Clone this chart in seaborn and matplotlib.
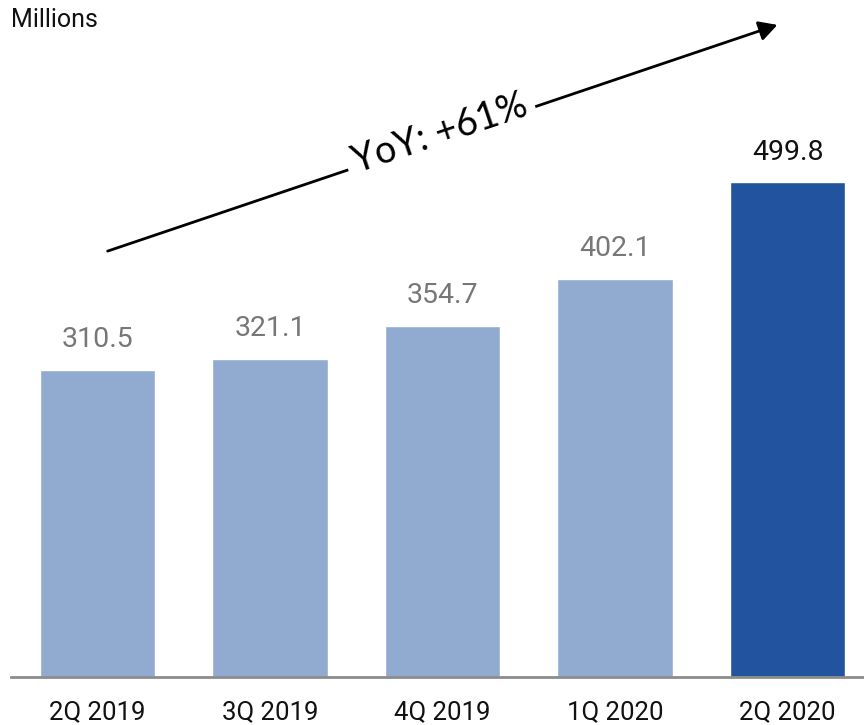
import matplotlib
matplotlib.use("Agg")
import matplotlib.pyplot as plt
import seaborn as sns
import pandas as pd

quarters = ["2Q 2019", "3Q 2019", "4Q 2019", "1Q 2020", "2Q 2020"]
values = [310.5, 321.1, 354.7, 402.1, 499.8]
value_labels = ["310.5", "321.1", "354.7", "402.1", "499.8"]
bar_colors = ["#91abd0", "#91abd0", "#91abd0", "#91abd0", "#21539f"]
label_colors = ["#777777", "#777777", "#777777", "#777777", "#111111"]
unit_label = "Millions"
growth_label = "YoY: +61%"

sns.set_theme(style="white")
plt.rcParams["font.family"] = ["Roboto", "DejaVu Sans"]

W, H = 864, 725
fig = plt.figure(figsize=(W / 100, H / 100), dpi=100)

# axes placed in pixel terms: baseline at y=677, bars spaced 172.5 px apart
ax_left, ax_right, ax_bottom = 11, 864, 677
ax = fig.add_axes([ax_left / W, (H - ax_bottom) / H, (ax_right - ax_left) / W, ax_bottom / H])

df = pd.DataFrame({"quarter": quarters, "value": values})
sns.barplot(data=df, x="quarter", y="value", hue="quarter", palette=bar_colors,
            width=0.667, legend=False, saturation=1, ax=ax)

spacing = 172.5
first_center = 97.5
ax.set_xlim(-(first_center - ax_left) / spacing, (ax_right - first_center) / spacing)
ax.set_ylim(0, ax_bottom / 0.99)

for s in ["top", "right", "left"]:
    ax.spines[s].set_visible(False)
ax.spines["bottom"].set_color("#8c8c8c")
ax.spines["bottom"].set_linewidth(2)

ax.set_yticks([])
ax.set_xlabel("")
ax.set_ylabel("")
ax.tick_params(axis="x", length=0, pad=17, labelsize=18.5, colors="#111111")

for i, (v, lab, c) in enumerate(zip(values, value_labels, label_colors)):
    ax.annotate(lab, (i, v), xytext=(0, 12), textcoords="offset points",
                ha="center", va="bottom", fontsize=20.5, color=c)

fig.text(11 / W, 1 - 20 / H, unit_label, ha="left", va="center",
         fontsize=18, color="#111111")

# growth arrow with label sitting on the line
x0, y0 = 105, 252
x1, y1 = 780, 24
fig.add_artist(matplotlib.patches.FancyArrowPatch(
    (x0 / W, 1 - y0 / H), (x1 / W, 1 - y1 / H), transform=fig.transFigure,
    arrowstyle="-|>,head_length=0.55,head_width=0.3", mutation_scale=20,
    color="black", linewidth=2))
fig.text(440 / W, 1 - 133 / H, growth_label, ha="center", va="center",
         rotation=18.6, rotation_mode="anchor", fontsize=27, color="black",
         family=["Lato", "DejaVu Sans"],
         bbox=dict(boxstyle="square,pad=0.2", fc="white", ec="none"))

fig.savefig("out.png", dpi=100)
